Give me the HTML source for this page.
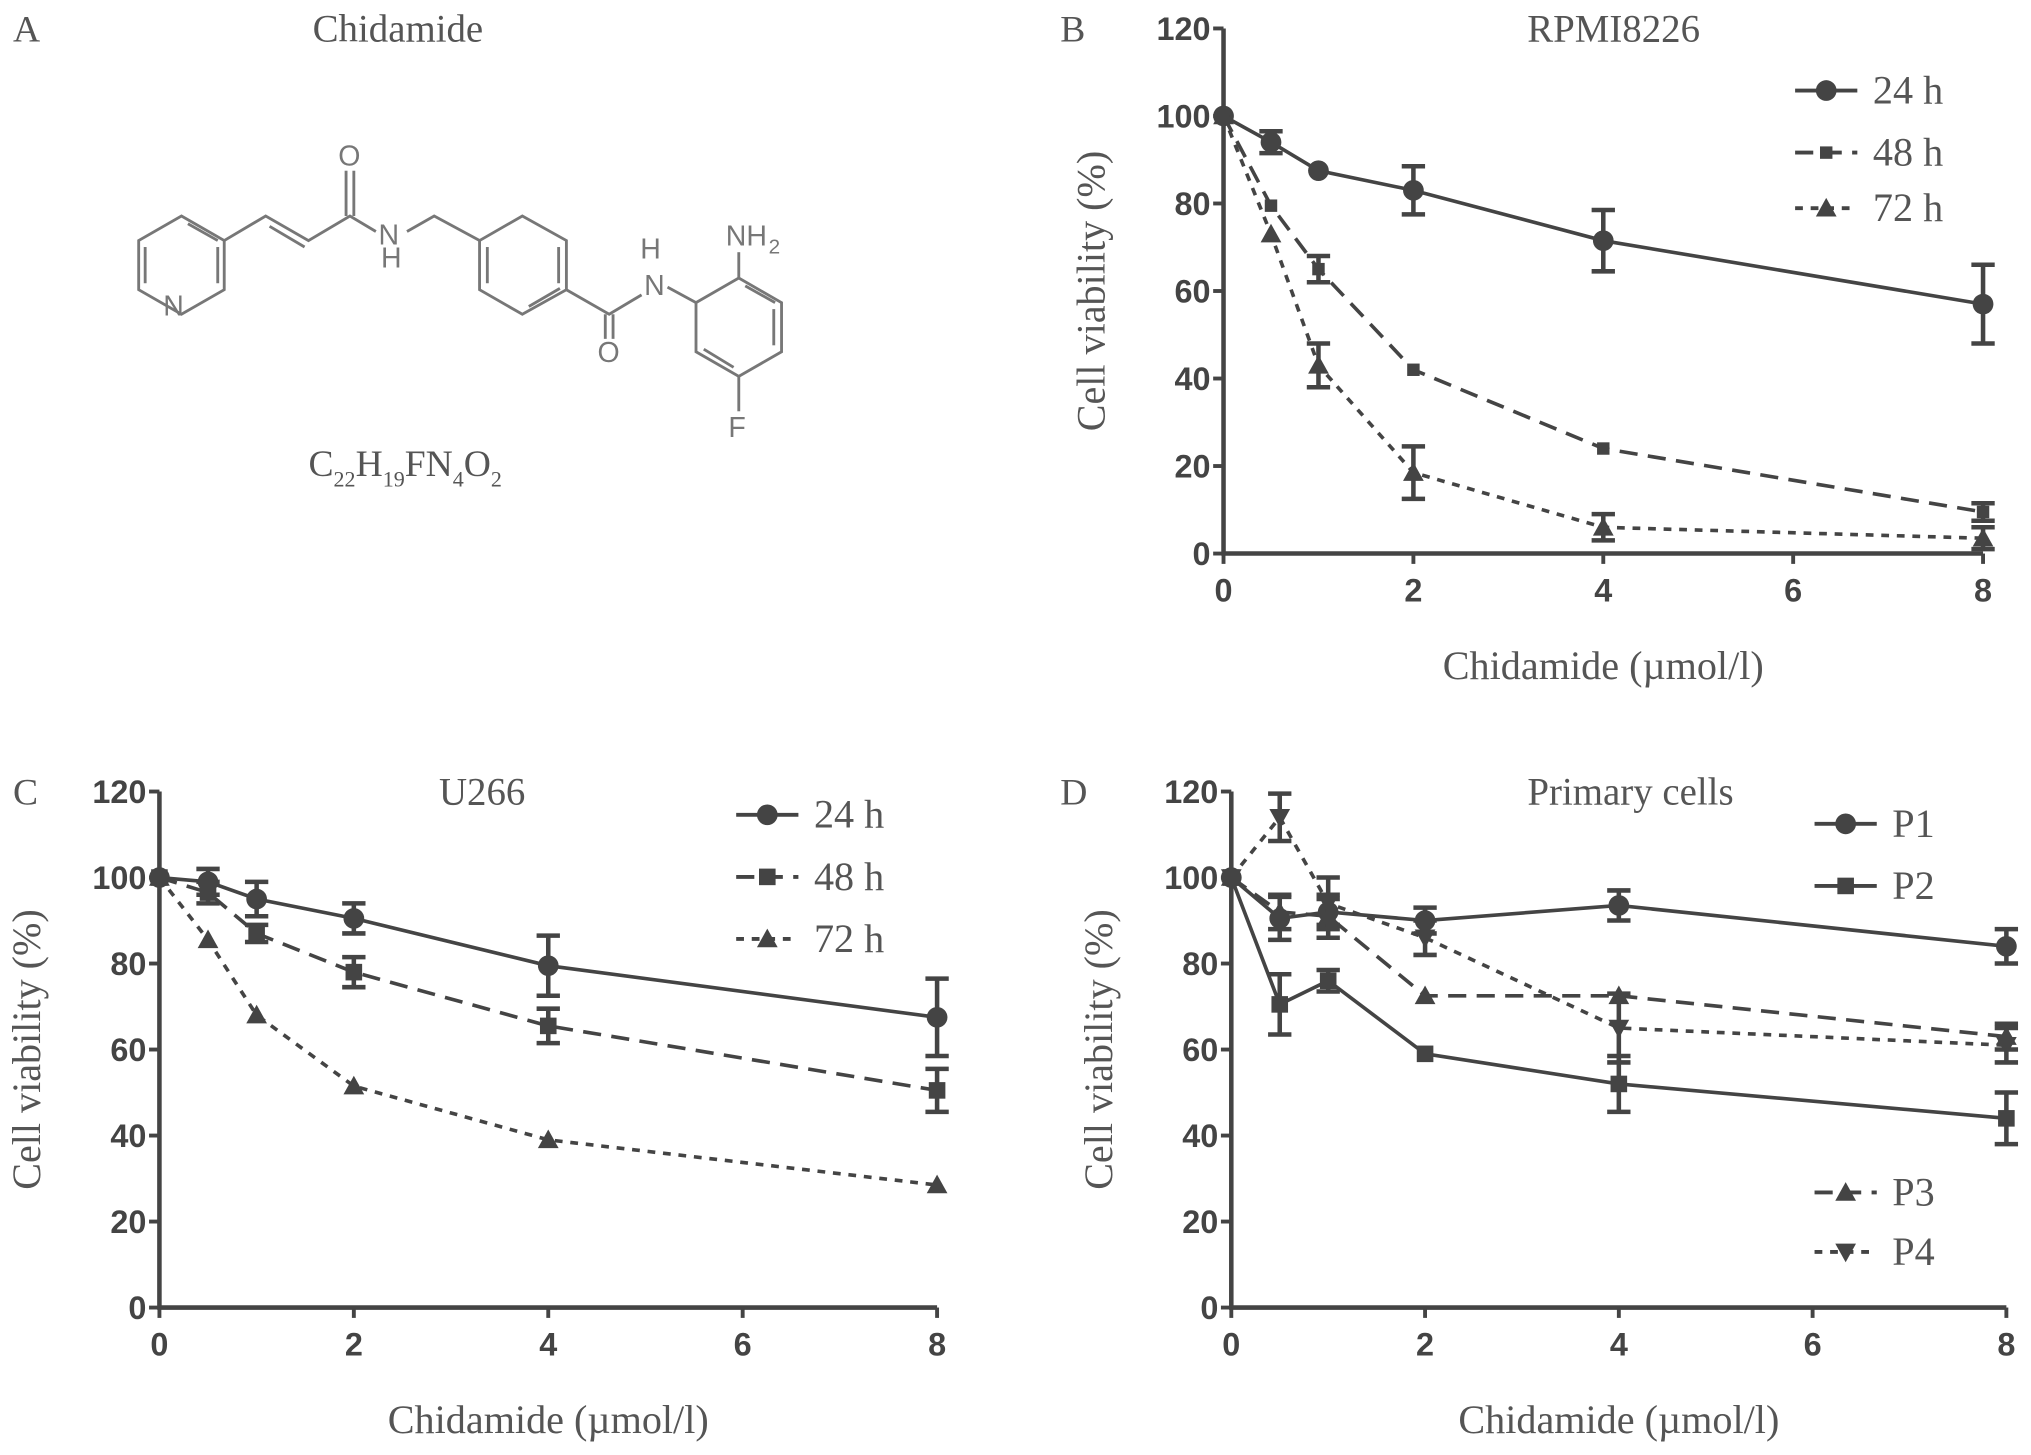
<!DOCTYPE html>
<html><head><meta charset="utf-8"><style>
html,body{margin:0;padding:0;background:#fff;}
svg{display:block;}
.tick{font-family:"Liberation Sans",sans-serif;font-weight:bold;font-size:25px;fill:#444;}
.ser{font-family:"Liberation Serif",serif;fill:#555;}
</style></head><body>
<svg id="fig" width="2031" height="1455" viewBox="0 0 1567 1125" preserveAspectRatio="none" xmlns="http://www.w3.org/2000/svg">
<g stroke="#777" stroke-width="2.2" fill="none">
<text class="ser" x="10" y="32" font-size="29" stroke="none">A</text>
<text class="ser" x="307" y="32" font-size="30" text-anchor="middle" stroke="none">Chidamide</text>
<polygon points="140,167 173,186 173,224 140,243 107,224 107,186"/>
<line x1="112" y1="191" x2="112" y2="219"/><line x1="145" y1="173" x2="168" y2="186"/><line x1="168" y1="191" x2="168" y2="219"/>
<polyline points="173,186 205,167 238,186 270,167 290,179"/>
<line x1="208" y1="175" x2="235" y2="191"/>
<line x1="267" y1="167" x2="267" y2="132"/><line x1="273" y1="167" x2="273" y2="132"/>
<polyline points="314,179 335,167 370,186"/>
<polygon points="370,186 403,167 437,186 437,224 403,243 370,224"/>
<line x1="376" y1="191" x2="376" y2="219"/><line x1="431" y1="191" x2="431" y2="219"/><line x1="408" y1="237" x2="432" y2="223"/>
<polyline points="437,224 470,243 495,228"/>
<line x1="467" y1="243" x2="467" y2="262"/><line x1="473" y1="243" x2="473" y2="262"/>
<line x1="515" y1="222" x2="537" y2="234"/>
<polygon points="537,234 570,215 603,234 603,272 570,291 537,272"/>
<line x1="575" y1="221" x2="598" y2="234"/><line x1="597" y1="239" x2="597" y2="267"/><line x1="543" y1="270" x2="566" y2="284"/>
<line x1="570" y1="215" x2="570" y2="195"/><line x1="570" y1="291" x2="570" y2="318"/>
<g stroke="none" fill="#777" font-family="Liberation Sans,sans-serif" font-size="22">
<text x="126" y="244">N</text><text x="261" y="128">O</text><text x="292" y="189">N</text><text x="294" y="207">H</text>
<text x="461" y="280">O</text><text x="497" y="228">N</text><text x="494" y="200">H</text>
<text x="560" y="190">NH</text><text x="593" y="196" font-size="16">2</text><text x="562" y="338">F</text>
</g>
<text class="ser" x="238" y="368" font-size="29" stroke="none">C<tspan font-size="17" dy="8">22</tspan><tspan dy="-8">H</tspan><tspan font-size="17" dy="8">19</tspan><tspan dy="-8">FN</tspan><tspan font-size="17" dy="8">4</tspan><tspan dy="-8">O</tspan><tspan font-size="17" dy="8">2</tspan></text>
</g>
</svg>
<script>
const xVals=[0,0.5,1,2,4,8];
const xTicks=[0,2,4,6,8];
const yTicks=[0,20,40,60,80,100,120];
const b24=[100,94,87.5,83,71.5,57], b24e=[0,2.5,0,5.5,7,9];
const b48=[100,79.5,65,42,24,9.5], b48e=[0,0,3,0,0,2];
const b72=[100,73,43,18.5,6,3.5], b72e=[0,0,5,6,3,2.5];
const c24=[100,99,95,90.5,79.5,67.5], c24e=[0,3,4,3.5,7,9];
const c48=[100,96.5,87,78,65.5,50.5], c48e=[0,2.5,2,3.5,4,5];
const c72=[100,85.5,68,51.5,39,28.5], c72e=[0,0,0,0,0,0];
const p1=[100,90.5,92,90,93.5,84], p1e=[0,5,3,3,3.5,4];
const p2=[100,70.5,76,59,52,44], p2e=[0,7,2.5,0,6.5,6];
const p3=[100,92,91,72.5,72.5,63], p3e=[0,4,5,0,0,3];
const p4=[100,114,94,86,65,61], p4e=[0,5.5,6,4,8,4];
const NS="http://www.w3.org/2000/svg", svg=document.getElementById('fig');
function mk(tag,at,parent){const e=document.createElementNS(NS,tag);for(const k in at)e.setAttribute(k,at[k]);(parent||svg).appendChild(e);return e;}
function marker(g,type,x,y,s){
  if(type==='circle')return mk('circle',{cx:x,cy:y,r:s,fill:'#444'},g);
  if(type==='square')return mk('rect',{x:x-s*0.8,y:y-s*0.8,width:s*1.6,height:s*1.6,fill:'#444'},g);
  if(type==='tri')return mk('polygon',{points:`${x},${y-s} ${x+s},${y+s*0.8} ${x-s},${y+s*0.8}`,fill:'#444'},g);
  return mk('polygon',{points:`${x},${y+s} ${x+s},${y-s*0.8} ${x-s},${y-s*0.8}`,fill:'#444'},g);
}
const dashes={solid:'',long:'14 8',short:'6 6'};
function panel(p){
  const g=mk('g',{});
  
  
  const X=v=>p.x0+(p.x1-p.x0)*v/8, Y=v=>p.y0-(p.y0-p.y1)*v/120;
  const ax=mk('path',{d:`M${X(0)},${Y(120)}V${Y(0)}H${X(8)}`,stroke:'#444','stroke-width':3.5,fill:'none'},g);
  
  
  yTicks.forEach(t=>{mk('line',{x1:X(0)-8,x2:X(0),y1:Y(t),y2:Y(t),stroke:'#444','stroke-width':3},g);
    const tx=mk('text',{x:X(0)-10,y:Y(t)+9,'text-anchor':'end',class:'tick'},g);tx.textContent=t;
    
    });
  xTicks.forEach(t=>{mk('line',{x1:X(t),x2:X(t),y1:Y(0),y2:Y(0)+8,stroke:'#444','stroke-width':3},g);
    const tx=mk('text',{x:X(t),y:Y(0)+37,'text-anchor':'middle',class:'tick'},g);tx.textContent=t;
    
    });
  const lb=mk('text',{x:p.lx,y:Y(120)+10,class:'ser','font-size':29},g);lb.textContent=p.label;
  
  
  const ti=mk('text',{x:p.tx,y:Y(120)+10,class:'ser','font-size':30,'text-anchor':'middle'},g);ti.textContent=p.title;
  
  
  const xt=mk('text',{x:(X(0)+X(8))/2,y:Y(0)+97,class:'ser','font-size':31,'text-anchor':'middle'},g);xt.textContent='Chidamide (µmol/l)';
  
  
  const cy=(Y(0)+Y(120))/2, cx=X(0)-92;
  const yt=mk('text',{x:cx,y:cy,class:'ser','font-size':31,'text-anchor':'middle',transform:`rotate(-90 ${cx} ${cy})`},g);yt.textContent='Cell viability (%)';
  
  
  p.series.forEach(s=>{
    const sg=mk('g',{},g);
    
    
    mk('polyline',{points:xVals.map((v,i)=>X(v)+','+Y(s.v[i])).join(' '),fill:'none',stroke:'#444','stroke-width':2.8,'stroke-dasharray':dashes[s.dash]},sg);
    xVals.forEach((v,i)=>{
      if(s.e[i]>0){const x=X(v),a=Y(s.v[i]+s.e[i]),b=Y(s.v[i]-s.e[i]);
        mk('path',{d:`M${x},${a}V${b}M${x-9},${a}H${x+9}M${x-9},${b}H${x+9}`,stroke:'#444','stroke-width':3.5,fill:'none'},sg);}
      const m=marker(sg,s.m,X(v),Y(s.v[i]),s.m==='square'?s.sq:8);
      
      
    });
    const lg=mk('g',{},g);
    
    
    mk('line',{x1:s.lx,x2:s.lx+48,y1:s.ly,y2:s.ly,stroke:'#444','stroke-width':3,'stroke-dasharray':dashes[s.dash]},lg);
    marker(lg,s.m,s.lx+24,s.ly,s.m==='square'?s.sq:8);
    const lt=mk('text',{x:s.lx+60,y:s.ly+10,class:'ser','font-size':31},lg);lt.textContent=s.name;
  });
}
panel({id:'panel-b-rpmi8226',label:'B',title:'RPMI8226',x0:944,x1:1530,y0:428,y1:22,lx:818,tx:1245,series:[
 {name:'24 h',v:b24,e:b24e,m:'circle',dash:'solid',lx:1385,ly:70},
 {name:'48 h',v:b48,e:b48e,m:'square',sq:6,dash:'long',lx:1385,ly:118},
 {name:'72 h',v:b72,e:b72e,m:'tri',dash:'short',lx:1385,ly:161}]});
panel({id:'panel-c-u266',label:'C',title:'U266',x0:123,x1:723,y0:1011,y1:612,lx:10,tx:372,series:[
 {name:'24 h',v:c24,e:c24e,m:'circle',dash:'solid',lx:568,ly:630},
 {name:'48 h',v:c48,e:c48e,m:'square',sq:8,dash:'long',lx:568,ly:678},
 {name:'72 h',v:c72,e:c72e,m:'tri',dash:'short',lx:568,ly:726}]});
panel({id:'panel-d-primary-cells',label:'D',title:'Primary cells',x0:950,x1:1548,y0:1011,y1:612,lx:818,tx:1258,series:[
 {name:'P1',v:p1,e:p1e,m:'circle',dash:'solid',lx:1400,ly:637},
 {name:'P2',v:p2,e:p2e,m:'square',sq:8,dash:'solid',lx:1400,ly:685},
 {name:'P3',v:p3,e:p3e,m:'tri',dash:'long',lx:1400,ly:922},
 {name:'P4',v:p4,e:p4e,m:'itri',dash:'short',lx:1400,ly:968}]});
</script>
</body></html>
